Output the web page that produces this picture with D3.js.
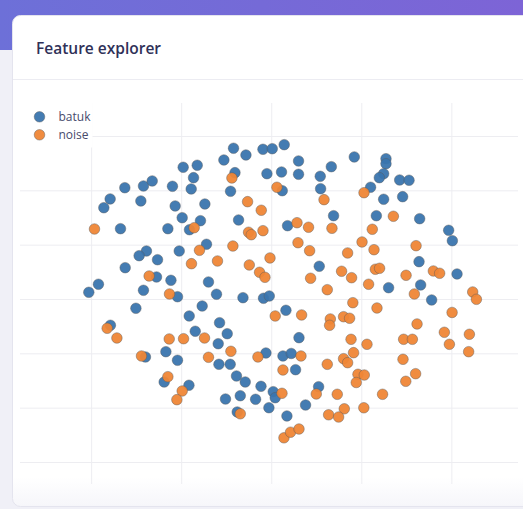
<!DOCTYPE html>
<html><head><meta charset="utf-8">
<script src="https://cdn.jsdelivr.net/npm/d3@7"></script>
<style>
html,body{margin:0;padding:0;width:523px;height:509px;overflow:hidden;background:#f0f0f7;}
svg{display:block;}
</style></head>
<body>
<svg id="chart" width="523" height="509"></svg>
<script>
const title = "Feature explorer";
const seriesNames = ["batuk", "noise"];
const xTicks = [-20, -10, 0, 10, 20];
const yTicks = [-30, -20, -10, 0, 10, 20, 30];

const batukX = [-4.19,-2.81,-0.92,0.11,1.44,-5.26,-9.78,-8.22,-8.63,-4.03,-0.48,1.14,-16.26,-14.19,-13.22,-10.97,-8.89,-4.52,1.22,-17.89,-18.59,-14.48,-10.67,-7.37,-9.89,-7.86,-3.63,1.81,-16.74,-11.48,-9.08,-7.19,-10.22,-13.86,-14.67,-12.63,-16.22,-12.74,-11.14,-6.97,-19.19,-20.26,-14.19,-10.41,-6.08,-3.14,-0.86,-0.22,-15.03,-7.67,3.03,3.03,5.44,6.67,9.22,12.74,12.74,12.48,12.0,5.48,11.03,14.26,15.3,12.48,14.59,6.92,11.67,16.48,19.7,20.11,5.33,16.41,20.63,13.03,16.59,17.81,1.63,-9.11,-5.74,-17.86,-8.44,-4.89,-5.89,-11.7,-10.41,-13.97,-0.59,1.3,2.22,-5.81,-4.56,-3.86,-2.89,-1.14,-11.89,-9.14,0.22,0.44,-3.44,-5.08,-1.74,-0.26,-3.78,1.74,3.08,2.7,5.26,3.81];
const batukY = [27.74,26.5,27.55,27.66,28.4,25.58,24.24,24.61,22.33,23.25,23.06,23.37,20.48,20.8,21.72,20.74,20.25,19.82,19.93,18.41,16.8,18.04,17.12,17.48,14.96,14.41,14.54,13.49,12.94,12.94,12.75,10.07,8.83,8.83,7.97,7.23,5.76,4.05,3.44,3.13,2.71,1.23,1.6,0.42,0.87,0.24,0.13,0.55,-1.71,-1.29,25.4,22.95,22.58,24.35,26.14,25.82,24.9,23.06,22.33,20.3,20.56,21.9,21.85,18.35,18.83,15.33,15.33,14.78,12.64,10.73,6.02,6.87,4.6,2.08,2.58,-0.18,-2.08,-3.13,-4.36,-4.84,-5.94,-6.39,-8.23,-9.7,-11.28,-10.67,-9.94,-10.49,-10.03,-12.02,-12.02,-14.17,-15.28,-16.07,-15.28,-15.88,-17.06,-18.17,-17.8,-18.41,-18.46,-20.01,-20.8,-21.53,-7.12,-13.01,-16.14,-19.51];

const noiseX = [-4.37,0.63,-2.63,-1.11,-19.63,-8.56,-2.52,-2.22,-0.92,-4.26,-7.97,-8.86,-5.97,-2.44,-0.14,-1.3,-0.7,-13.56,-11.3,10.3,5.86,2.86,4.14,6.74,11.22,13.56,2.97,4.26,10.08,11.41,16.08,8.48,4.37,7.81,8.92,11.56,12.03,14.97,18.0,18.7,6.22,10.81,15.89,22.37,22.78,9.06,11.74,20.08,0.44,-18.22,-17.14,-11.33,-9.74,-7.41,-4.48,-14.41,-6.97,-1.48,1.3,-11.48,-9.89,-10.48,1.19,-3.44,1.41,2.14,3.08,3.37,6.56,6.48,8.03,8.7,16.19,8.86,10.63,14.7,15.67,19.22,22.0,19.78,21.92,3.3,9.14,8.03,8.48,6.22,14.63,9.63,10.33,9.44,14.94,16.03,5.0,7.33,12.36,8.11,6.37,7.48,10.28];
const noiseY = [22.27,20.56,17.91,16.33,12.88,13.12,12.28,11.83,12.57,9.75,8.96,6.5,6.99,6.26,7.55,4.91,3.99,4.23,0.92,19.56,18.28,14.04,13.2,13.01,12.83,15.22,10.36,8.89,10.49,9.07,9.81,8.47,3.81,5.1,3.92,5.47,5.65,4.36,5.15,4.73,1.71,2.71,0.92,1.29,-0.06,-0.68,-1.66,-2.48,-3.13,-5.39,-7.18,-7.36,-7.31,-7.18,-9.63,-10.49,-10.73,-10.67,-13.07,-14.3,-16.93,-18.53,-17.36,-21.13,-25.55,-24.52,-23.93,-2.94,-3.68,-4.84,-3.26,-3.55,-4.6,-7.42,-8.34,-7.42,-7.42,-6.13,-6.5,-8.34,-9.7,-10.49,-9.88,-10.99,-11.72,-12.02,-11.1,-13.86,-13.99,-15.37,-15.15,-13.75,-17.48,-17.54,-17.54,-20.21,-21.31,-21.72,-20.02];

const colors = ["#3a75ae", "#ef8636"];

(function(){
const svg = d3.select("#chart");
const defs = svg.append("defs");
const hg = defs.append("linearGradient").attr("id","hdr").attr("x1","0").attr("x2","1").attr("y1","0").attr("y2","0");
hg.append("stop").attr("offset","0%").attr("stop-color","#6d70d8");
hg.append("stop").attr("offset","100%").attr("stop-color","#7d64d6");
const cg = defs.append("linearGradient").attr("id","card").attr("x1","0").attr("x2","0").attr("y1","0").attr("y2","1");
cg.append("stop").attr("offset","0%").attr("stop-color","#ffffff");
cg.append("stop").attr("offset","94%").attr("stop-color","#ffffff");
cg.append("stop").attr("offset","100%").attr("stop-color","#f6f6fa");

svg.append("rect").attr("x",0).attr("y",0).attr("width",523).attr("height",509).attr("fill","#f0f0f7");
svg.append("rect").attr("x",0).attr("y",0).attr("width",523).attr("height",50).attr("fill","url(#hdr)");

svg.append("rect").attr("x",12.5).attr("y",15.5).attr("width",540).attr("height",491)
  .attr("rx",8).attr("fill","url(#card)").attr("stroke","#e4e4ee").attr("stroke-width",1);
svg.append("text").attr("x",36).attr("y",54).text(title)
  .attr("font-family","'Open Sans', sans-serif").attr("font-weight",600).attr("font-size","15.5px").attr("fill","#2f3158");
svg.append("line").attr("x1",13).attr("x2",523).attr("y1",79.5).attr("y2",79.5).attr("stroke","#ececf2");

const pL = 20, pR = 518, pT = 103, pB = 484;
const x = d3.scaleLinear().domain([-27.9, 27.4]).range([pL, pR]);
const y = d3.scaleLinear().domain([-34.05, 36.07]).range([pB, pT]);

const grid = svg.append("g");
grid.append("g").attr("transform",`translate(0,${pB})`)
  .call(d3.axisBottom(x).tickValues(xTicks).tickSize(-(pB-pT)).tickFormat(""))
  .call(g=>g.select(".domain").remove())
  .call(g=>g.selectAll("line").attr("stroke","#ededf1").attr("stroke-width",1));
grid.append("g").attr("transform",`translate(${pL},0)`)
  .call(d3.axisLeft(y).tickValues(yTicks).tickSize(-(pR-pL)).tickFormat(""))
  .call(g=>g.select(".domain").remove())
  .call(g=>g.selectAll("line").attr("stroke","#ededf1").attr("stroke-width",1));

const series = [
  {name: seriesNames[0], xs: batukX, ys: batukY, color: colors[0]},
  {name: seriesNames[1], xs: noiseX, ys: noiseY, color: colors[1]}
];
series.forEach(s => {
  const pts = s.xs.map((v,i)=>({x:v, y:s.ys[i]}));
  svg.append("g").selectAll("circle").data(pts).join("circle")
    .attr("cx",d=>x(d.x)).attr("cy",d=>y(d.y)).attr("r",5.3)
    .attr("fill",s.color).attr("fill-opacity",0.95)
    .attr("stroke","#5a5a5a").attr("stroke-opacity",0.55).attr("stroke-width",0.8);
});

const lg = svg.append("g");
lg.append("rect").attr("x",pL).attr("y",pT).attr("width",72.5).attr("height",44.5).attr("fill","#fff");
series.forEach((s,i)=>{
  const cy = 116.8 + i*18;
  lg.append("circle").attr("cx",39.5).attr("cy",cy).attr("r",5.3)
    .attr("fill",s.color).attr("fill-opacity",0.95).attr("stroke","#5a5a5a").attr("stroke-opacity",0.55).attr("stroke-width",0.8);
  lg.append("text").attr("x",58.5).attr("y",cy+4.2).text(s.name)
    .attr("font-family","'Open Sans', sans-serif").attr("font-size","12px").attr("fill","#484b6c");
});
})();
</script>
</body></html>
